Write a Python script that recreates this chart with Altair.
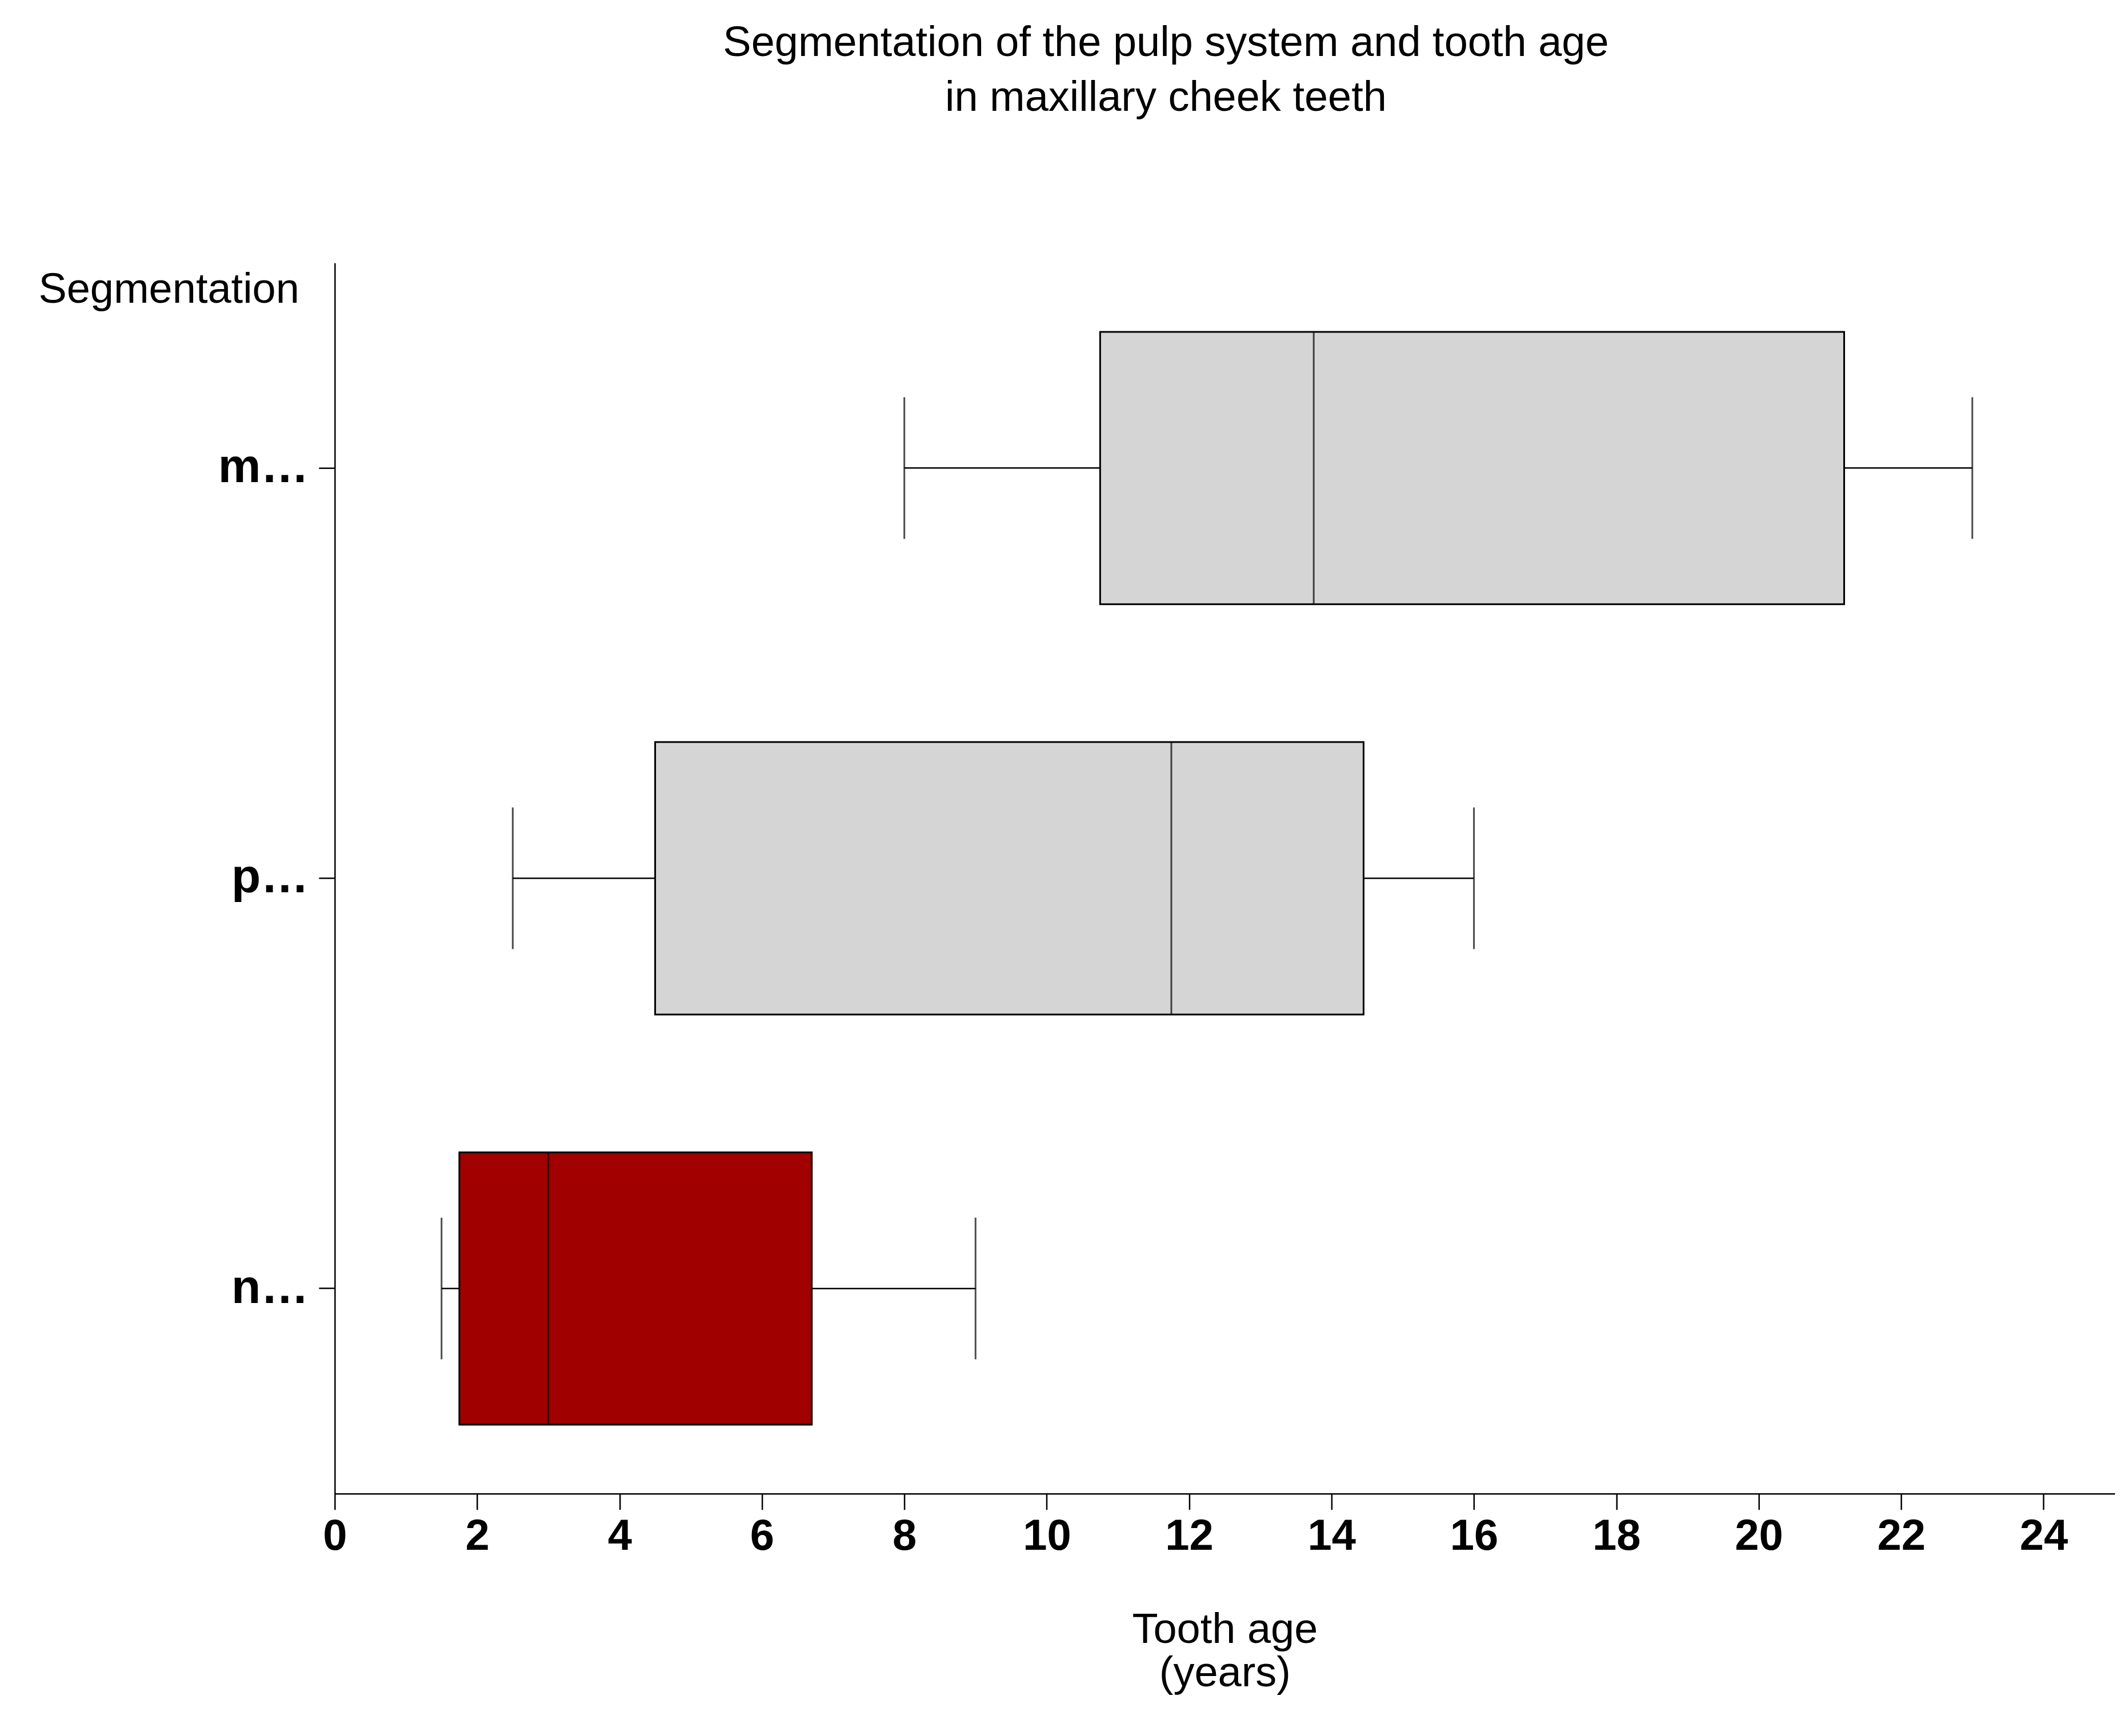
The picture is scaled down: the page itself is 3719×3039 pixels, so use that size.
import altair as alt
import pandas as pd

groups = ["maximal", "partial", "none"]
lower = [8.0, 2.5, 1.5]
q1 = [10.75, 4.5, 1.75]
median = [13.75, 11.75, 3.0]
q3 = [21.2, 14.45, 6.7]
upper = [23.0, 16.0, 9.0]
fills = ["#d5d5d5", "#d5d5d5", "#a00000"]

data = pd.DataFrame({"g": groups, "lo": lower, "q1": q1, "med": median,
                     "q3": q3, "hi": upper, "fill": fills})

F = "Liberation Sans"
xs = alt.Scale(domain=[0, 25], nice=False)
ys = alt.Scale(domain=groups, paddingInner=0, paddingOuter=0)

base = alt.Chart(data).encode(
    y=alt.Y("g:N", scale=ys, sort=groups, title=None,
            axis=alt.Axis(labelFont=F, labelFontSize=84, labelFontWeight="bold",
                          labelColor="black", labelPadding=18, tickSize=28,
                          tickWidth=2.5, tickColor="black", domainColor="black",
                          domainWidth=2.5, grid=False))
)

whisk_lo = base.mark_rule(color="black", strokeWidth=2.5).encode(
    x=alt.X("lo:Q", scale=xs), x2="q1:Q")
whisk_hi = base.mark_rule(color="black", strokeWidth=2.5).encode(
    x=alt.X("q3:Q", scale=xs), x2="hi:Q")
box = base.mark_bar(size=477, stroke="black", strokeWidth=3).encode(
    x=alt.X("q1:Q", scale=xs,
            title=["Tooth age", "(years)"],
            axis=alt.Axis(values=list(range(0, 25, 2)), format="d",
                          labelFont=F, labelFontSize=76, labelFontWeight="bold",
                          labelColor="black", labelPadding=10, tickSize=28,
                          tickWidth=2.5, tickColor="black", domainColor="black",
                          domainWidth=2.5, grid=False, titleFont=F,
                          titleFontSize=74, titleFontWeight="normal",
                          titleColor="black", titlePadding=90, labelFlush=False)),
    x2="q3:Q",
    color=alt.Color("fill:N", scale=None))
med = base.mark_tick(color="black", thickness=3, size=477).encode(
    x=alt.X("med:Q", scale=xs))
cap_lo = base.mark_tick(color="black", thickness=3, size=248).encode(
    x=alt.X("lo:Q", scale=xs))
cap_hi = base.mark_tick(color="black", thickness=3, size=248).encode(
    x=alt.X("hi:Q", scale=xs))

label = alt.Chart(pd.DataFrame({"t": ["Segmentation"]})).mark_text(
    font=F, fontSize=74, align="right", baseline="middle", color="black"
).encode(text="t:N", x=alt.value(-62), y=alt.value(48))

chart = alt.layer(whisk_lo, whisk_hi, box, med, cap_lo, cap_hi, label).properties(
    width=3116, height=2155,
    title=alt.TitleParams(
        ["Segmentation of the pulp system and tooth age", "in maxillary cheek teeth"],
        font=F, fontSize=74, fontWeight="normal", color="black",
        anchor="middle", dx=-103, offset=250, lineHeight=96),
    autosize=alt.AutoSizeParams(type="none"),
    padding={"left": 578, "top": 452, "right": 10, "bottom": 400},
).configure_view(stroke=None)

chart.save("out.html", embed_options={"renderer": "svg", "actions": False})
